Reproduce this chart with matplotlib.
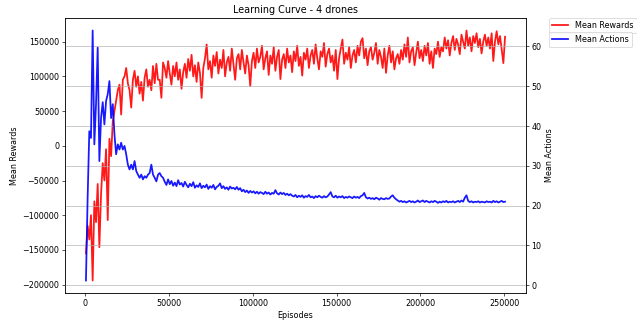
import numpy as np
import matplotlib
matplotlib.use('Agg')
import matplotlib.pyplot as plt

# одна точка на каждые 1000 эпизодов
episodes = np.arange(500, 251000, 1000)

# средняя награда, в тысячах
mean_rewards_k = [
    -155, -115, -135, -100, -194, -80, -110, -55, -146, -70,
    -25, -50, -5, -107, 10, -15, 35, 50, 65, 80,
    88, 45, 95, 100, 112, 90, 80, 55, 95, 108,
    85, 100, 75, 92, 65, 98, 110, 85, 95, 80,
    115, 90, 118, 95, 95, 69, 120,
    112, 98, 122,
    104, 88, 115, 100, 120, 95, 110, 82, 106, 118,
    98, 125, 108, 131, 100, 116, 92, 120, 105, 69,
    112, 126, 146, 110, 122, 98, 130, 115, 135, 104,
    124, 112, 138, 100, 120, 128, 108, 140, 118, 95,
    126, 132, 110, 138, 120, 104, 130, 116, 86, 122,
    134, 112, 140, 120, 128, 144, 110, 126, 136, 102,
    130, 118, 142, 108, 128, 138, 96, 124, 132, 112,
    140, 120, 130, 106, 136, 122, 144, 115, 128, 101,
    134, 124, 140, 112, 130, 138, 118, 146, 126, 110,
    136, 128, 148, 114, 132, 140, 120, 130, 108, 138,
    96, 126, 140, 153, 118, 134, 124, 142, 112, 130,
    138, 120, 144, 130, 150, 155, 126, 140, 116, 136,
    142, 124, 134, 148, 118, 138, 128, 112, 140, 105,
    130, 144, 120, 136, 110, 126, 132, 118, 138, 124,
    146, 128, 156, 120, 136, 142, 116, 134, 150, 126,
    138, 122, 144, 130, 148, 118, 136, 112, 140, 132,
    150, 128, 142, 136, 156, 140, 152, 130, 148, 158,
    138, 154, 146, 132, 160, 150, 140, 166, 144, 156,
    136, 158, 148, 162, 142, 154, 133, 150, 160, 144,
    156, 140, 162, 122, 150, 165, 146, 158, 138, 119,
    157,
]

# среднее число действий
mean_actions = [
    1.2, 22, 38.7, 37, 64, 35.4, 45.5, 59.7, 31.2, 42,
    46, 40.4, 46.3, 48, 51.3, 42, 45.5, 37.9, 32.9, 35.4,
    34.1, 35.8, 34.1, 35, 32.9, 30.3, 29.1, 30.3, 29.1, 31.2,
    28.7, 27.8, 27, 27.8, 26.6, 27.4, 27, 27.8, 28.2, 30.3,
    27.8, 27, 26.1, 27.8, 28.2, 27.4, 27,
    26.0, 25.2, 26.6,
    25.4, 26.2, 25.0, 25.8, 24.9, 26.4, 25.3, 25.7, 24.8, 26.0,
    25.2, 24.6, 25.5, 24.9, 25.9, 24.5, 25.1, 24.7, 25.6, 24.4,
    25.0, 24.6, 25.3, 24.2, 24.9, 24.5, 25.2, 24.1, 24.7, 25.0,
    25.6, 24.4, 24.9, 24.2, 24.6, 24.0, 24.8, 24.3, 24.5, 24.1,
    24.7, 24.0, 24.4, 23.6, 24.0, 23.4, 23.8, 23.2, 23.7, 23.3,
    23.6, 23.1, 23.5, 23.0, 23.4, 23.2, 22.9, 23.5, 23.0, 23.3,
    22.8, 23.2, 23.0, 23.9, 23.1, 22.8, 23.3, 22.9, 23.2, 22.7,
    23.0, 22.6, 22.9, 22.5, 22.3, 22.7, 22.1, 22.5, 22.2, 22.6,
    22.0, 22.4, 22.2, 22.7, 22.1, 22.3, 21.9, 22.4, 22.1, 22.5,
    22.2, 22.0, 22.4, 22.1, 22.3, 22.8, 23.4, 22.3, 22.1, 22.5,
    22.0, 22.3, 22.1, 22.4, 21.9, 22.2, 22.0, 22.3, 22.1, 21.9,
    22.3, 22.0, 22.2, 21.9, 22.4, 22.6, 23.2, 22.1, 21.8, 22.0,
    21.7, 21.9, 21.6, 22.0, 21.8, 21.5, 21.9, 21.7, 21.6, 21.9,
    21.7, 21.8, 22.3, 22.6, 22.0, 21.6, 21.3, 21.0, 21.2, 20.9,
    21.1, 20.8, 21.0, 21.2, 20.9, 21.1, 20.8, 21.0, 21.3, 20.9,
    21.1, 21.3, 20.9, 21.2, 21.0, 20.8, 21.1, 20.9, 21.2, 21.0,
    20.7, 21.0, 20.8, 21.1, 20.9, 21.2, 20.8, 21.0, 20.9, 21.1,
    20.8, 21.0, 21.2, 20.9, 21.3, 21.0, 22.0, 22.6, 21.2, 20.9,
    21.1, 20.8, 21.0, 20.9, 21.1, 20.8, 21.0, 20.9, 20.8, 21.1,
    20.9, 21.0, 20.8, 21.2, 20.9, 21.1, 20.8, 21.0, 21.2, 20.9,
    21.0,
]

mean_rewards = np.array(mean_rewards_k) * 1000

dpi = 58
fig = plt.figure(figsize=(637 / dpi, 325 / dpi), dpi=dpi)
ax = fig.add_axes([65 / 637, 32 / 325, 461 / 637, 275 / 325])

ax.plot(episodes, mean_rewards, color='red', alpha=0.9, linewidth=2.2, label='Mean Rewards')
ax.set_xlabel('Episodes')
ax.set_ylabel('Mean Rewards')
ax.set_title('Learning Curve - 4 drones')
ax.legend(loc='upper left', bbox_to_anchor=(1.05, 1), borderaxespad=0)

ax2 = ax.twinx()
ax2.plot(episodes, mean_actions, color='blue', alpha=0.9, linewidth=2.2, label='Mean Actions')
ax2.set_ylabel('Mean Actions')
ax2.grid(axis='y')
ax2.legend(loc='upper left', bbox_to_anchor=(1.05, 0.95), borderaxespad=0)

fig.savefig('out.png', dpi=dpi)
